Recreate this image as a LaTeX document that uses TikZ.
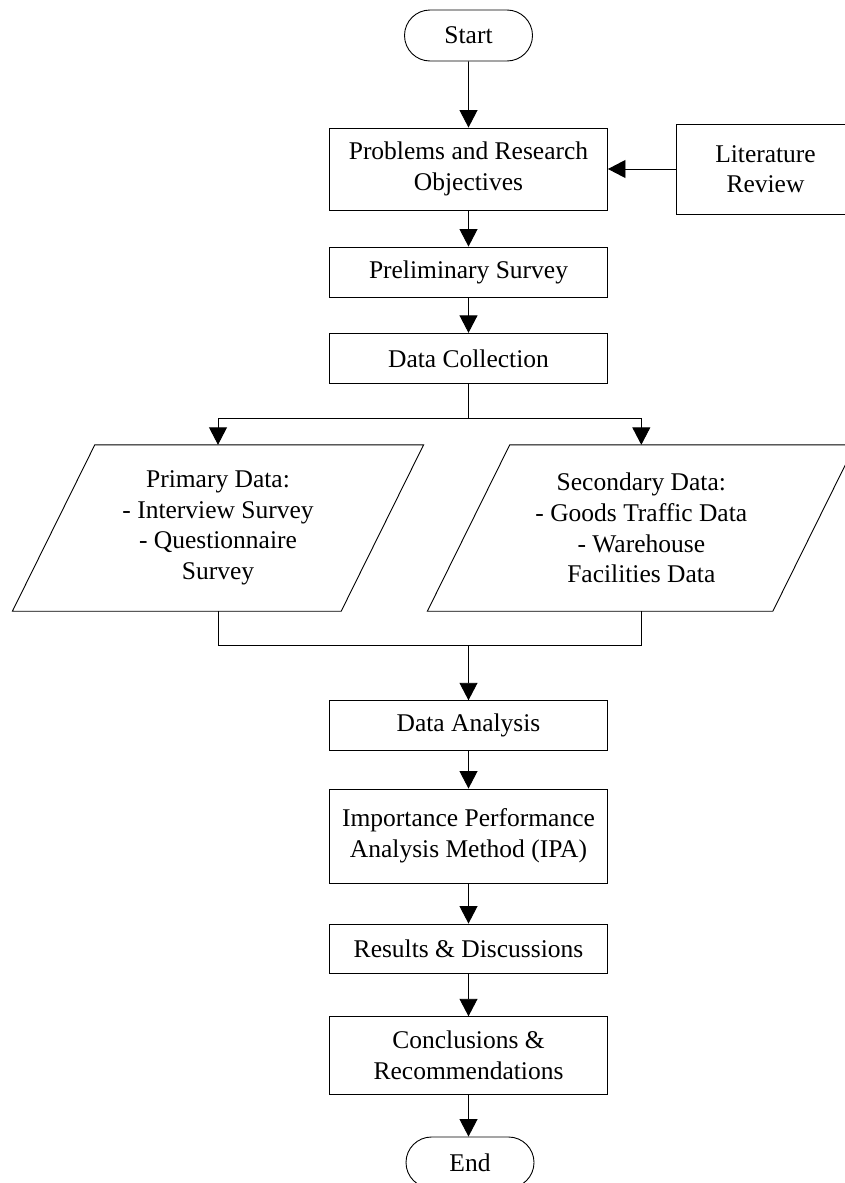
\documentclass[tikz,border=0pt]{standalone}
\usepackage{fontspec}
\setmainfont{Liberation Serif}
\usetikzlibrary{arrows.meta,shapes.misc}

\tikzset{
    flowline/.style={line width=0.9pt},
    flowarrow/.style={flowline, -{Triangle[length=17.5pt,width=18pt]}},
    stepbox/.style={draw, flowline, minimum width=278pt, inner sep=0pt,
        align=center, font=\fontsize{25.5}{30.6}\selectfont},
    terminal/.style={draw, flowline, rounded rectangle, minimum width=128pt,
        minimum height=51pt, inner sep=0pt, font=\fontsize{25.5}{30.6}\selectfont},
    databox/.style={minimum height=166pt, inner sep=0pt,
        align=center, font=\fontsize{25.5}{30.6}\selectfont}
}

\begin{document}
\begin{tikzpicture}[x=1pt, y=-1pt]
    \useasboundingbox (0,0) rectangle (844,1183);

    % Main column
    \node[terminal] (start) at (468.5,35.5) {Start};
    \node[stepbox, minimum height=82pt] (problems) at (468.5,169) {Problems and Research\\Objectives};
    \node[stepbox, minimum width=179pt, minimum height=90pt] (litreview) at (765.5,169) {Literature\\Review};
    \node[stepbox, minimum height=50pt] (prelim) at (468.5,272) {Preliminary Survey};
    \node[stepbox, minimum height=50pt] (collect) at (468.5,358.3) {Data Collection};

    % Data sources (parallelograms)
    \node[databox, minimum width=410.8pt] (primary) at (218,528) {Primary Data:\\- Interview Survey\\- Questionnaire\\Survey};
    \node[databox, minimum width=427.5pt] (secondary) at (641.3,528) {Secondary Data:\\- Goods Traffic Data\\- Warehouse\\Facilities Data};
    \foreach \n in {primary,secondary}
        \draw[flowline] ([xshift=82.4pt]\n.north west) -- (\n.north east)
            -- ([xshift=-82.4pt]\n.south east) -- (\n.south west) -- cycle;

    \node[stepbox, minimum height=49.5pt] (analysis) at (468.5,725.5) {Data Analysis};
    \node[stepbox, minimum height=94pt] (ipa) at (468.5,836) {Importance Performance\\Analysis Method (IPA)};
    \node[stepbox, minimum height=49pt] (results) at (468.5,948.5) {Results \& Discussions};
    \node[stepbox, minimum height=77.5pt] (concl) at (468.5,1055.5) {Conclusions \&\\Recommendations};
    \node[terminal] (stop) at (470,1162.5) {End};

    \coordinate (split) at (468.5,418);
    \coordinate (join) at (468.5,645.5);

    % Connectors
    \draw[flowarrow] (start) -- (problems);
    \draw[flowarrow] (litreview) -- (problems);
    \draw[flowarrow] (problems) -- (prelim);
    \draw[flowarrow] (prelim) -- (collect);
    \draw[flowline] (collect.south) -- (split);
    \draw[flowarrow] (split) -| (primary.north);
    \draw[flowarrow] (split) -| (secondary.north);
    \draw[flowline] (primary.south) |- (join) -| (secondary.south);
    \draw[flowarrow] (join) -- (analysis.north);
    \draw[flowarrow] (analysis) -- (ipa);
    \draw[flowarrow] (ipa) -- (results);
    \draw[flowarrow] (results) -- (concl);
    \draw[flowarrow] (concl.south) -- (stop.north -| concl.south);
\end{tikzpicture}
\end{document}
